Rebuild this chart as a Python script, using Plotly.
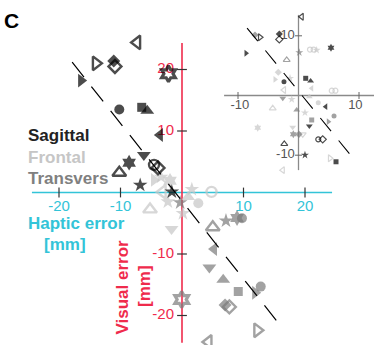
import plotly.graph_objects as go

# ---------------- Main panel data (Haptic error x, Visual error y; mm) ----------------
sag_x = [-7.3, -14.0, -11.1, -10.9, -16.4, -2.2, -10.2, -6.55, -5.65, -3.6, -6.2, -8.6, -4.55, -3.9, -10.2, -6.8, -1.65]
sag_y = [24.4, 21.0, 21.4, 20.5, 18.2, 19.3, 13.5, 13.85, 13.3, 9.35, 6.1, 4.85, 4.5, 4.0, 3.2, 1.2, 0.1]
sag_sym = ['triangle-left-open', 'triangle-right-open', 'diamond', 'diamond-open', 'triangle-right',
           'hexagram-open', 'circle', 'square', 'triangle-up', 'triangle-left', 'triangle-down',
           'hexagram', 'circle-open', 'diamond-open', 'triangle-up-open', 'star', 'star']

fro_x = [-4.55, -3.4, -1.95, -3.15, -2.3, -5.2, 0.15, -1.7, 1.6, 1.0, 2.65, 4.8]
fro_y = [2.05, 2.5, 1.9, 0.1, -1.5, -2.75, -3.4, -5.95, 0.5, -0.75, -1.75, 0.1]
fro_sym = ['triangle-right', 'star', 'hexagram', 'triangle-left-open', 'star', 'triangle-up-open',
           'star', 'triangle-down', 'star', 'triangle-up', 'circle', 'circle-open']

tra_x = [-0.3, 5.0, 7.15, 8.95, 9.75, 5.2, 4.45, 6.7, 9.15, 12.8, 11.9, 7.0, 7.7, 12.25, 4.3, -0.05]
tra_y = [-1.65, -5.65, -4.6, -4.15, -4.2, -9.2, -12.2, -14.2, -16.1, -15.3, -16.3, -18.3, -18.6, -22.4, -24.3, -17.4]
tra_sym = ['star', 'triangle-up-open', 'star', 'hexagram', 'circle', 'triangle-left', 'triangle-down',
           'triangle-up', 'square', 'circle', 'triangle-right', 'diamond', 'diamond-open',
           'triangle-right-open', 'triangle-left-open', 'hexagram-open']

fit_x = [-17.86, 16.34]
fit_y = [21.18, -22.06]

tick_vals = [-20, -10, 10, 20]
tick_text = ['-20', '-10', '10', '20']

# ---------------- Inset data ----------------
in_sag_x = [-8.68, -6.36, 0.53, -3.17, -3.17, 5.37, -2.4, 1.19, 2.0, 4.5, 1.79, 3.27, 4.0, -2.35, 1.07, 6.2]
in_sag_y = [7.07, 9.75, 13.2, 10.3, 9.4, 8.0, 2.3, 2.88, 2.43, -1.87, -5.1, -7.34, -7.34, -8.12, -9.97, -11.1]
in_sag_sym = ['triangle-right', 'triangle-right-open', 'triangle-left-open', 'diamond', 'diamond-open',
              'hexagram', 'circle', 'square', 'triangle-up', 'triangle-left', 'triangle-down',
              'circle-open', 'diamond-open', 'triangle-up-open', 'star', 'square']

in_fro_x = [-3.34, -3.88, -1.4, 1.9, 2.5, 3.0, 2.18, -2.4, 5.5, 6.1, -1.12, 1.79, -4.26, 1.07, 3.27, -0.96, 0.7, -6.74, 5.2, -2.6]
in_fro_y = [3.9, 2.7, 2.9, 7.7, 7.7, 7.6, 1.2, 0.92, 0.8, 0.8, -0.64, -0.2, -2.15, -2.88, -1.2, -5.33, -6.5, -5.39, -10.5, -12.5]
in_fro_sym = ['diamond', 'triangle-right', 'star', 'circle-open', 'circle-open', 'star', 'triangle-left',
              'triangle-left-open', 'circle-open', 'circle-open', 'star', 'triangle-up', 'triangle-up-open',
              'star', 'circle', 'triangle-down', 'triangle-down-open', 'hexagram', 'triangle-right-open',
              'triangle-left-open']

in_tra_x = [-7.19, 0.13, -1.95, -2.6, -0.3, 5.87, 4.93, 2.18, -0.86, 0.08]
in_tra_y = [10.13, 7.2, 5.95, -0.47, -2.43, -3.43, -4.38, -4.1, -6.5, -6.5]
in_tra_sym = ['diamond', 'star', 'triangle-up-open', 'triangle-down', 'triangle-up', 'circle',
              'triangle-right', 'square', 'hexagram', 'diamond']

in_fit_x = [-8.5, 9.5]
in_fit_y = [11.3, -11.1]

in_tick_vals = [-10, 10]
in_tick_text = ['-10', '10']

# ---------------- Styles ----------------
CYAN = '#33c4d8'
RED = '#ef2b4c'
BLACK = '#000000'
GRAY = '#7a7a7a'
LIGHT = '#c6c6c6'
FONT = 'Liberation Sans, Arial, sans-serif'

W, H = 374, 345
# main axes: origin at pixel (182, 192.5), 6.15 px per mm
PX = 6.15
X0, Y0 = 182.0, 192.5
# inset axes: origin at pixel (298.5, 95.5)
IPX, IPY = 6.05, 5.97
IX0, IY0 = 298.5, 95.5

SIZE_MAIN = {'triangle': 12, 'circle': 10, 'square': 9, 'diamond': 10, 'star': 11, 'hexagram': 12}
SIZE_IN = {'triangle': 6, 'circle': 5, 'square': 5, 'diamond': 5.5, 'star': 6, 'hexagram': 6}


def sizes(syms, table):
    return [table[s.split('-')[0]] for s in syms]


def lws(syms, w, whex=None):
    out = []
    for s in syms:
        if s.endswith('-open'):
            out.append(whex if (whex and s.startswith('hexagram')) else w)
        else:
            out.append(0)
    return out


fig = go.Figure()

# main axis lines
fig.add_trace(go.Scatter(x=[-24.4, 24.4], y=[0, 0], mode='lines',
                         line=dict(color=CYAN, width=1.6), hoverinfo='skip'))
fig.add_trace(go.Scatter(x=[0, 0], y=[-24.45, 24.3], mode='lines',
                         line=dict(color=RED, width=1.6), hoverinfo='skip'))
# tick marks
fig.add_trace(go.Scatter(x=tick_vals, y=[0] * 4, mode='markers',
                         marker=dict(symbol='line-ns', size=7, line=dict(color='#333', width=1.2)),
                         hoverinfo='skip'))
fig.add_trace(go.Scatter(x=[0] * 4, y=tick_vals, mode='markers',
                         marker=dict(symbol='line-ew', size=7, line=dict(color='#333', width=1.2)),
                         hoverinfo='skip'))
# tick labels
fig.add_trace(go.Scatter(x=tick_vals, y=[-2.4] * 4, mode='text', text=tick_text,
                         textposition='middle center',
                         textfont=dict(family=FONT, size=15, color=CYAN), hoverinfo='skip'))
fig.add_trace(go.Scatter(x=[-1.3] * 4, y=tick_vals, mode='text', text=tick_text,
                         textposition='middle left',
                         textfont=dict(family=FONT, size=15, color=RED), hoverinfo='skip'))

# main markers
for xs, ys, syms, col in [(fro_x, fro_y, fro_sym, LIGHT), (tra_x, tra_y, tra_sym, GRAY),
                          (sag_x, sag_y, sag_sym, BLACK)]:
    fig.add_trace(go.Scatter(x=xs, y=ys, mode='markers',
                             marker=dict(symbol=syms, size=sizes(syms, SIZE_MAIN), color=col,
                                         line=dict(color=col, width=lws(syms, 2.4, 3.2))),
                             hoverinfo='skip'))

# main dashed fit line
fig.add_trace(go.Scatter(x=fit_x, y=fit_y, mode='lines',
                         line=dict(color='black', width=1.2, dash='19px,12px'), hoverinfo='skip'))

# ---------------- inset ----------------
fig.add_trace(go.Scatter(x=[-12.3, 13], y=[0, 0], mode='lines', xaxis='x2', yaxis='y2',
                         line=dict(color='#8a8a8a', width=1.3), hoverinfo='skip'))
fig.add_trace(go.Scatter(x=[0, 0], y=[-12.5, 13.5], mode='lines', xaxis='x2', yaxis='y2',
                         line=dict(color='#8a8a8a', width=1.3), hoverinfo='skip'))
fig.add_trace(go.Scatter(x=in_tick_vals, y=[0, 0], mode='markers', xaxis='x2', yaxis='y2',
                         marker=dict(symbol='line-ns', size=5, line=dict(color='#666', width=1)),
                         hoverinfo='skip'))
fig.add_trace(go.Scatter(x=[0, 0], y=in_tick_vals, mode='markers', xaxis='x2', yaxis='y2',
                         marker=dict(symbol='line-ew', size=5, line=dict(color='#666', width=1)),
                         hoverinfo='skip'))
fig.add_trace(go.Scatter(x=[-9.7, 9.4], y=[-1.7, -1.7], mode='text', text=in_tick_text,
                         xaxis='x2', yaxis='y2', textposition='middle center',
                         textfont=dict(family=FONT, size=13, color='#555'), hoverinfo='skip'))
fig.add_trace(go.Scatter(x=[-0.6, -0.6], y=in_tick_vals, mode='text', text=in_tick_text,
                         xaxis='x2', yaxis='y2', textposition='middle left',
                         textfont=dict(family=FONT, size=13, color='#555'), hoverinfo='skip'))

for xs, ys, syms, col in [(in_fro_x, in_fro_y, in_fro_sym, LIGHT), (in_tra_x, in_tra_y, in_tra_sym, GRAY),
                          (in_sag_x, in_sag_y, in_sag_sym, BLACK)]:
    fig.add_trace(go.Scatter(x=xs, y=ys, mode='markers', xaxis='x2', yaxis='y2',
                             marker=dict(symbol=syms, size=sizes(syms, SIZE_IN), color=col,
                                         line=dict(color=col, width=lws(syms, 1.2))),
                             hoverinfo='skip'))

fig.add_trace(go.Scatter(x=in_fit_x, y=in_fit_y, mode='lines', xaxis='x2', yaxis='y2',
                         line=dict(color='black', width=1.1, dash='17px,12px'), hoverinfo='skip'))


# ---------------- text ----------------
def ann(text, px, py, size, color, bold=True, anchor='left', angle=0):
    return dict(text=('<b>%s</b>' % text) if bold else text, x=px / W, y=1 - py / H,
                xref='paper', yref='paper', xanchor=anchor, yanchor='middle', showarrow=False,
                textangle=angle, font=dict(family=FONT, size=size, color=color))


annotations = [
    ann('C', 2, 20, 21, BLACK),
    ann('Sagittal', 26, 135, 17, '#222222'),
    ann('Frontal', 26, 157, 17, LIGHT),
    ann('Transvers', 26, 178.5, 17, '#808080'),
    ann('Haptic error', 76, 223, 17, CYAN, anchor='center'),
    ann('[mm]', 65, 244, 17, CYAN, anchor='center'),
    ann('Visual error', 121.5, 287, 17, RED, anchor='center', angle=-90),
    ann('[mm]', 144, 286, 17, RED, anchor='center', angle=-90),
]

fig.update_layout(
    width=W, height=H, margin=dict(l=0, r=0, t=0, b=0),
    paper_bgcolor='white', plot_bgcolor='white', showlegend=False,
    xaxis=dict(range=[-X0 / PX, (W - X0) / PX], visible=False, fixedrange=True),
    yaxis=dict(range=[-(H - Y0) / PX, Y0 / PX], visible=False, fixedrange=True),
    xaxis2=dict(range=[-IX0 / IPX, (W - IX0) / IPX], visible=False, overlaying='x', anchor='y2',
                fixedrange=True),
    yaxis2=dict(range=[-(H - IY0) / IPY, IY0 / IPY], visible=False, overlaying='y', anchor='x2',
                fixedrange=True),
    annotations=annotations,
)

fig.write_html('out.html', config={'displayModeBar': False},
               post_script="document.body.style.margin='0';")
